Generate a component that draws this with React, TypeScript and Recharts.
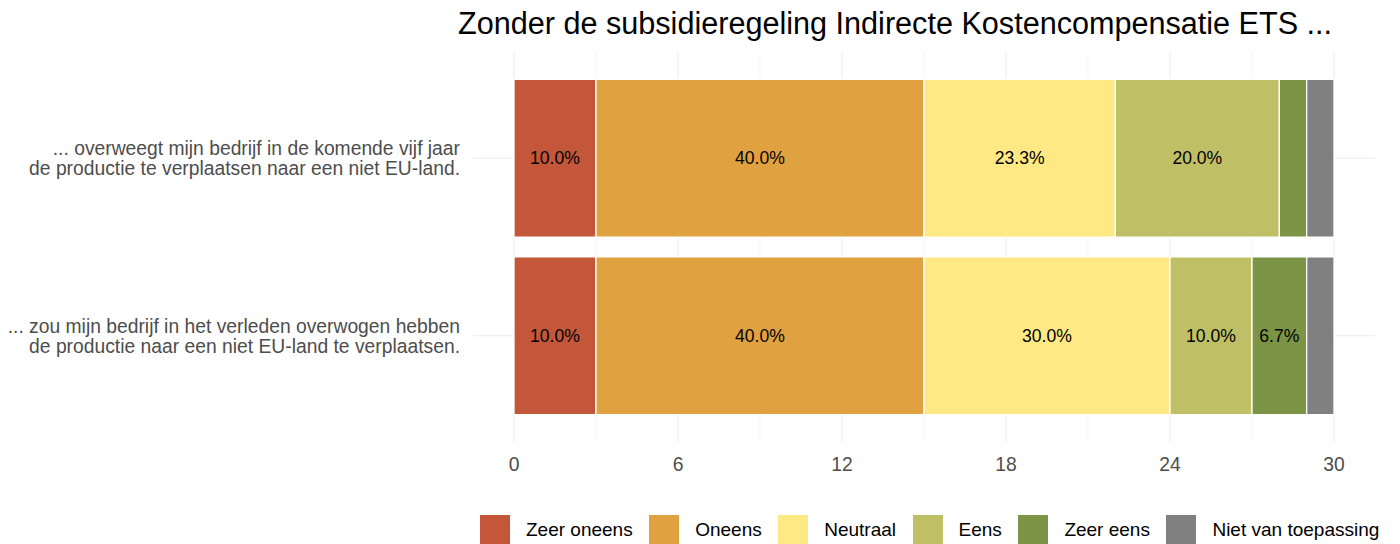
import React from "react";
import {
  BarChart,
  Bar,
  XAxis,
  YAxis,
  CartesianGrid,
  LabelList,
} from "recharts";

// ---------- data ----------
const title = "Zonder de subsidieregeling Indirecte Kostencompensatie ETS ...";

const categories = [
  "... overweegt mijn bedrijf in de komende vijf jaar\nde productie te verplaatsen naar een niet EU-land.",
  "... zou mijn bedrijf in het verleden overwogen hebben\nde productie naar een niet EU-land te verplaatsen.",
];

const zeerOneens = [3, 3];
const oneens = [12, 12];
const neutraal = [7, 9];
const eens = [6, 3];
const zeerEens = [1, 2];
const nietVanToepassing = [1, 1];

const seriesKeys = ["zeerOneens", "oneens", "neutraal", "eens", "zeerEens", "niet"];
const seriesNames = [
  "Zeer oneens",
  "Oneens",
  "Neutraal",
  "Eens",
  "Zeer eens",
  "Niet van toepassing",
];
const seriesValues = [zeerOneens, oneens, neutraal, eens, zeerEens, nietVanToepassing];
const seriesColors = ["#C4573A", "#E0A141", "#FEE984", "#BFBF66", "#7B9446", "#808080"];

const xTicks = [0, 6, 12, 18, 24, 30];
const xMinorTicks = [3, 9, 15, 21, 27];
const labelThreshold = 5; // percent

// ---------- build table ----------
const data = categories.map((cat, i) => {
  const row: any = { category: cat };
  let total = 0;
  seriesKeys.forEach((k, s) => {
    row[k] = seriesValues[s][i];
    total += seriesValues[s][i];
  });
  row.total = total;
  return row;
});

const FONT = "'Liberation Sans', Arial, sans-serif";

const YTick = (props: any) => {
  const { x, y, payload } = props;
  const lines = String(payload.value).split("\n");
  return (
    <text
      x={x}
      y={y}
      textAnchor="end"
      fill="#4D4D4D"
      fontSize={19.3}
      fontFamily={FONT}
    >
      {lines.map((ln, i) => (
        <tspan key={i} x={x} dy={i === 0 ? -3 : 20}>
          {ln}
        </tspan>
      ))}
    </text>
  );
};

const makeLabel = (key: string) => (props: any) => {
  const { x, y, width, height, index } = props;
  const row = data[index];
  if (!row) return null;
  const pct = (row[key] / row.total) * 100;
  if (pct < labelThreshold) return null;
  return (
    <text
      x={x + width / 2}
      y={y + height / 2}
      textAnchor="middle"
      dominantBaseline="central"
      fill="#000"
      fontSize={17.6}
      fontFamily={FONT}
    >
      {pct.toFixed(1) + "%"}
    </text>
  );
};

export default function App() {
  return (
    <div
      style={{
        position: "absolute",
        left: 0,
        top: 0,
        width: 1400,
        height: 544,
        background: "#fff",
        overflow: "hidden",
        fontFamily: FONT,
      }}
    >
      <div
        style={{
          position: "absolute",
          left: 458,
          top: 8,
          fontSize: 30.6,
          lineHeight: "30.6px",
          whiteSpace: "nowrap",
          color: "#000",
        }}
      >
        {title}
      </div>
      <BarChart
        width={1400}
        height={544}
        data={data}
        layout="vertical"
        margin={{ top: 52, right: 25, left: 0, bottom: 72 }}
        barCategoryGap="5.5%"
      >
        <CartesianGrid
          horizontal={false}
          vertical={true}
          stroke="#EBEBEB"
          strokeWidth={0.55}
          syncWithTicks
          verticalValues={xMinorTicks}
        />
        <CartesianGrid stroke="#EBEBEB" strokeWidth={1.07} syncWithTicks />
        <XAxis
          type="number"
          domain={[-1.5, 31.5]}
          ticks={xTicks}
          axisLine={false}
          tickLine={false}
          tickMargin={9}
          height={30}
          tick={{ fill: "#4D4D4D", fontSize: 19.3, fontFamily: FONT }}
        />
        <YAxis
          type="category"
          dataKey="category"
          width={473}
          axisLine={false}
          tickLine={false}
          tickMargin={7}
          padding={{ top: 17.5, bottom: 17.5 }}
          tick={<YTick />}
          interval={0}
        />
        {seriesKeys.map((k, s) => (
          <Bar
            key={k}
            dataKey={k}
            name={seriesNames[s]}
            stackId="a"
            fill={seriesColors[s]}
            stroke="#FFFFFF"
            strokeWidth={1.3}
            isAnimationActive={false}
          >
            <LabelList dataKey={k} content={makeLabel(k)} />
          </Bar>
        ))}
      </BarChart>
      <div
        style={{
          position: "absolute",
          left: 480,
          top: 515,
          display: "flex",
          alignItems: "center",
          whiteSpace: "nowrap",
        }}
      >
        {seriesNames.map((n, s) => (
          <div
            key={n}
            style={{
              display: "flex",
              alignItems: "center",
              marginRight: s === seriesNames.length - 1 ? 0 : 16.5,
            }}
          >
            <div
              style={{
                width: 30,
                height: 30,
                background: seriesColors[s],
                marginRight: 16,
              }}
            />
            <span style={{ fontSize: 19, color: "#000", lineHeight: "30px" }}>{n}</span>
          </div>
        ))}
      </div>
    </div>
  );
}
